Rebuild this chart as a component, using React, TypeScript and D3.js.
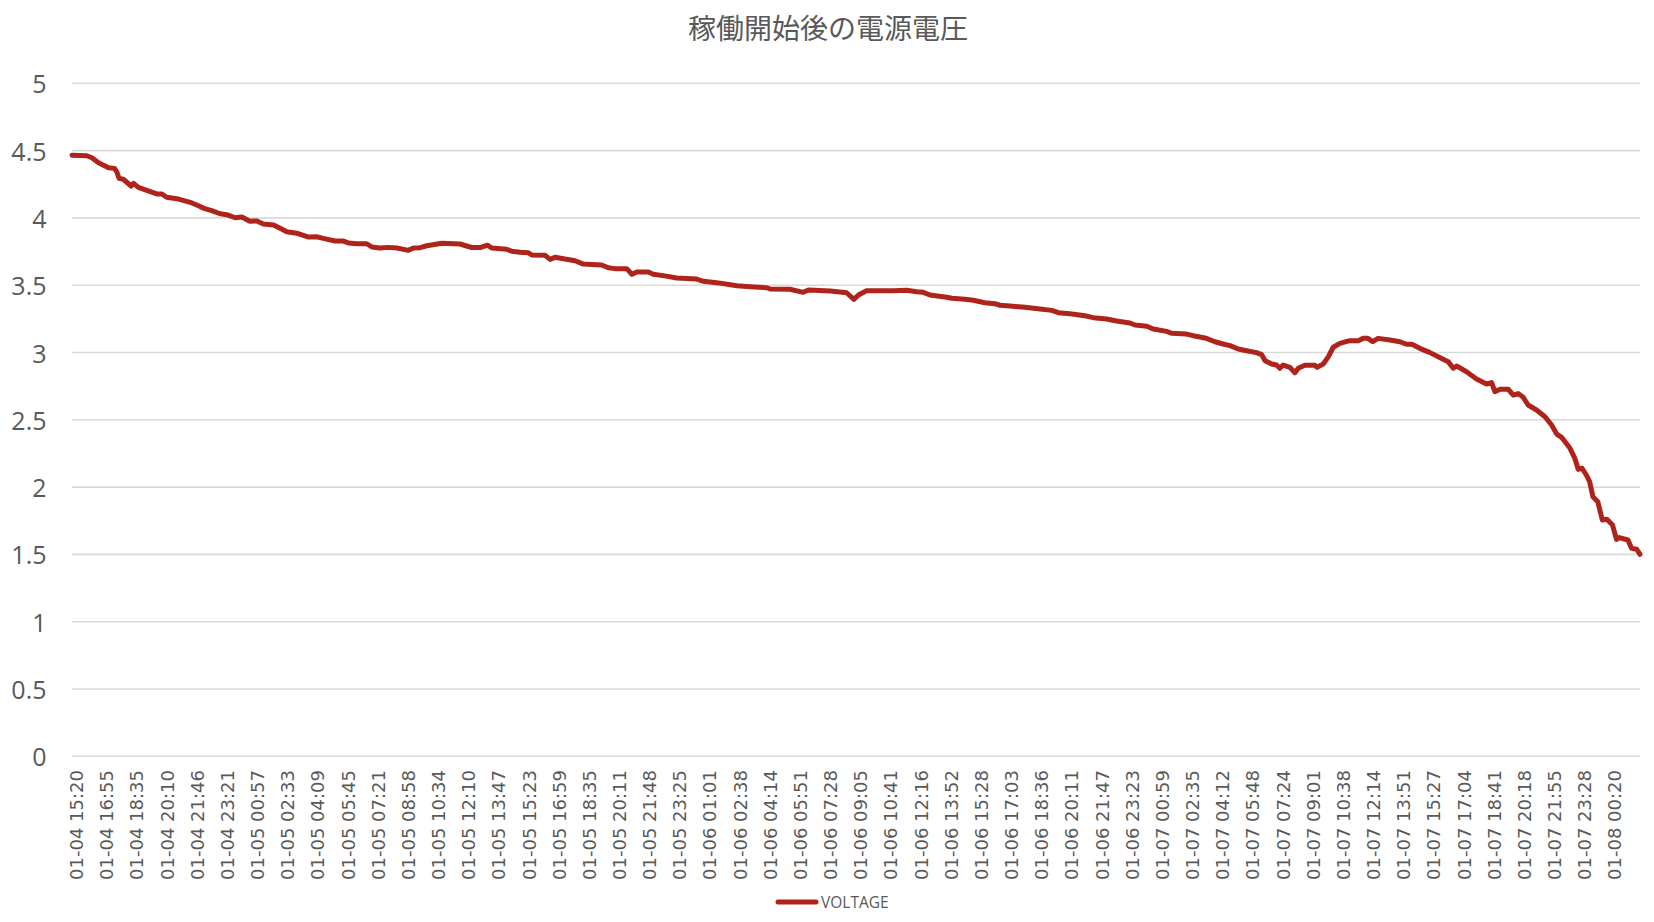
import { useEffect, useRef } from "react";
import * as d3 from "d3";

// ── Data ────────────────────────────────────────────────────────────────────

const title = "稼働開始後の電源電圧";
const seriesName = "VOLTAGE";

// x-axis category labels (every Nth sample is labelled)
const tickLabels = [
  "01-04 15:20", "01-04 16:55", "01-04 18:35", "01-04 20:10", "01-04 21:46", "01-04 23:21",
  "01-05 00:57", "01-05 02:33", "01-05 04:09", "01-05 05:45", "01-05 07:21", "01-05 08:58",
  "01-05 10:34", "01-05 12:10", "01-05 13:47", "01-05 15:23", "01-05 16:59", "01-05 18:35",
  "01-05 20:11", "01-05 21:48", "01-05 23:25", "01-06 01:01", "01-06 02:38", "01-06 04:14",
  "01-06 05:51", "01-06 07:28", "01-06 09:05", "01-06 10:41", "01-06 12:16", "01-06 13:52",
  "01-06 15:28", "01-06 17:03", "01-06 18:36", "01-06 20:11", "01-06 21:47", "01-06 23:23",
  "01-07 00:59", "01-07 02:35", "01-07 04:12", "01-07 05:48", "01-07 07:24", "01-07 09:01",
  "01-07 10:38", "01-07 12:14", "01-07 13:51", "01-07 15:27", "01-07 17:04", "01-07 18:41",
  "01-07 20:18", "01-07 21:55", "01-07 23:28", "01-08 00:20",
];

const yTicks = [0, 0.5, 1, 1.5, 2, 2.5, 3, 3.5, 4, 4.5, 5];

// position along the axis (in label units, 0 = first label) and voltage
const samplePos = [
  -0.15, 0.34, 0.51, 0.73, 1.06, 1.26, 1.34, 1.41, 1.55, 1.81, 1.89, 2.05, 2.33, 2.66, 2.83,
  2.99, 3.38, 3.77, 4.04, 4.23, 4.48, 4.76, 4.98, 5.26, 5.48, 5.75, 5.98, 6.19, 6.53, 6.75,
  6.97, 7.3, 7.69, 7.96, 8.18, 8.57, 8.85, 9.01, 9.29, 9.62, 9.79, 10.06, 10.34, 10.62, 11.0,
  11.17, 11.39, 11.61, 12.11, 12.71, 13.1, 13.38, 13.62, 13.77, 14.26, 14.43, 14.7, 14.98,
  15.09, 15.53, 15.7, 15.86, 16.19, 16.53, 16.8, 17.41, 17.63, 17.85, 18.24, 18.41, 18.57,
  18.96, 19.12, 19.45, 19.9, 20.56, 20.78, 21.22, 21.89, 22.33, 22.88, 22.99, 23.65, 24.09,
  24.26, 24.98, 25.31, 25.53, 25.77, 25.92, 26.19, 27.08, 27.52, 27.85, 28.07, 28.29, 28.85,
  29.01, 29.45, 29.73, 30.11, 30.44, 30.61, 31.05, 31.44, 31.94, 32.33, 32.55, 32.93, 33.43,
  33.71, 34.15, 34.48, 34.92, 35.09, 35.48, 35.69, 36.14, 36.3, 36.8, 37.02, 37.41, 37.74,
  38.01, 38.24, 38.51, 38.79, 39.12, 39.29, 39.4, 39.62, 39.78, 39.89, 40.0, 40.22, 40.39,
  40.5, 40.72, 41.05, 41.13, 41.33, 41.5, 41.66, 41.88, 42.21, 42.49, 42.65, 42.81, 42.97,
  43.15, 43.54, 43.87, 44.09, 44.27, 44.53, 44.87, 45.14, 45.47, 45.64, 45.75, 46.08, 46.41,
  46.74, 46.91, 47.02, 47.19, 47.46, 47.63, 47.79, 47.96, 48.12, 48.4, 48.68, 48.9, 49.07,
  49.23, 49.51, 49.67, 49.78, 49.91, 50.05, 50.16, 50.27, 50.43, 50.58, 50.73, 50.92, 51.05,
  51.14, 51.43, 51.55, 51.72, 51.83,
];

const voltage = [
  4.465, 4.462, 4.447, 4.41, 4.373, 4.368, 4.339, 4.294, 4.287, 4.237, 4.257, 4.227, 4.205,
  4.178, 4.178, 4.153, 4.14, 4.116, 4.09, 4.071, 4.054, 4.031, 4.024, 4.001, 4.007, 3.975,
  3.977, 3.955, 3.947, 3.923, 3.897, 3.886, 3.858, 3.86, 3.848, 3.828, 3.828, 3.814, 3.808,
  3.808, 3.784, 3.776, 3.781, 3.776, 3.759, 3.776, 3.779, 3.793, 3.811, 3.806, 3.78, 3.78,
  3.797, 3.776, 3.767, 3.752, 3.745, 3.741, 3.724, 3.722, 3.692, 3.707, 3.695, 3.682, 3.657,
  3.65, 3.63, 3.623, 3.623, 3.581, 3.598, 3.598, 3.581, 3.571, 3.553, 3.546, 3.529, 3.519,
  3.496, 3.489, 3.481, 3.472, 3.47, 3.447, 3.464, 3.457, 3.45, 3.444, 3.395, 3.427, 3.459,
  3.459, 3.462, 3.452, 3.447, 3.427, 3.41, 3.403, 3.395, 3.388, 3.37, 3.363, 3.351, 3.343,
  3.336, 3.323, 3.313, 3.296, 3.288, 3.273, 3.259, 3.249, 3.234, 3.219, 3.204, 3.195, 3.175,
  3.157, 3.143, 3.137, 3.125, 3.108, 3.08, 3.063, 3.051, 3.026, 3.013, 2.999, 2.984, 2.939,
  2.915, 2.907, 2.883, 2.907, 2.89, 2.85, 2.883, 2.905, 2.905, 2.89, 2.915, 2.969, 3.039,
  3.068, 3.088, 3.088, 3.105, 3.105, 3.08, 3.105, 3.093, 3.08, 3.061, 3.061, 3.031, 2.999,
  2.969, 2.932, 2.883, 2.9, 2.857, 2.803, 2.766, 2.776, 2.709, 2.727, 2.727, 2.684, 2.695,
  2.667, 2.61, 2.573, 2.523, 2.461, 2.394, 2.37, 2.288, 2.214, 2.132, 2.14, 2.09, 2.04,
  1.929, 1.892, 1.756, 1.761, 1.718, 1.612, 1.625, 1.607, 1.545, 1.538, 1.501,
];

// ── Layout ──────────────────────────────────────────────────────────────────

const W = 1654;
const H = 922;
const plot = { left: 72, right: 1640, top: 83.3, bottom: 756.3 };
const TEXT = "#595959";
const GRID = "#d9d9d9";
const LINE = "#b0231a";

export default function App() {
  const svgRef = useRef<SVGSVGElement>(null);

  useEffect(() => {
    if (!svgRef.current) return;
    const svg = d3.select(svgRef.current);
    svg.selectAll("*").remove();

    const x = d3.scaleLinear().domain([-0.15, 51.83]).range([plot.left, plot.right]);
    const y = d3.scaleLinear().domain([0, 5]).range([plot.bottom, plot.top]);

    svg.append("rect").attr("width", W).attr("height", H).attr("fill", "#fff");

    // title
    svg.append("text")
      .attr("x", 828).attr("y", 27)
      .attr("text-anchor", "middle").attr("dominant-baseline", "central")
      .attr("fill", TEXT).attr("font-size", 28)
      .attr("font-family", "'Noto Sans CJK JP', 'Noto Sans', sans-serif")
      .text(title);

    // ── Grid + y labels ──
    const gy = svg.append("g");
    gy.selectAll("line").data(yTicks).join("line")
      .attr("x1", plot.left).attr("x2", plot.right)
      .attr("y1", (d) => y(d)).attr("y2", (d) => y(d))
      .attr("stroke", GRID).attr("stroke-width", 1.6);

    gy.selectAll("text").data(yTicks).join("text")
      .attr("x", 46.5).attr("y", (d) => y(d))
      .attr("text-anchor", "end").attr("dominant-baseline", "central")
      .attr("fill", TEXT).attr("font-size", 25)
      .attr("font-family", "'Open Sans', 'DejaVu Sans', sans-serif")
      .text((d) => String(d));

    // ── X labels (rotated) ──
    svg.append("g").selectAll("text").data(tickLabels).join("text")
      .attr("transform", (_, i) => `translate(${x(i)},770) rotate(-90)`)
      .attr("text-anchor", "end").attr("dominant-baseline", "central")
      .attr("fill", TEXT).attr("font-size", 18)
      .attr("font-family", "'DejaVu Sans', sans-serif")
      .text((d) => d);

    // ── Line ──
    const pts = samplePos.map((p, i) => [p, voltage[i]] as [number, number]);
    const line = d3.line<[number, number]>()
      .x((d) => x(d[0]))
      .y((d) => y(d[1]));

    svg.append("path").datum(pts)
      .attr("fill", "none")
      .attr("stroke", LINE)
      .attr("stroke-width", 5)
      .attr("stroke-linejoin", "round")
      .attr("stroke-linecap", "round")
      .attr("d", line);

    // ── Legend ──
    const lg = svg.append("g").attr("transform", "translate(776,902)");
    lg.append("line")
      .attr("x1", 2).attr("x2", 40).attr("y1", 0).attr("y2", 0)
      .attr("stroke", LINE).attr("stroke-width", 5).attr("stroke-linecap", "round");
    lg.append("text")
      .attr("x", 45).attr("y", 0).attr("dominant-baseline", "central")
      .attr("fill", TEXT).attr("font-size", 15.5)
      .attr("font-family", "'Open Sans', sans-serif")
      .text(seriesName);
  }, []);

  return (
    <svg
      ref={svgRef}
      width={W}
      height={H}
      style={{ position: "absolute", left: 0, top: 0, display: "block" }}
    />
  );
}
